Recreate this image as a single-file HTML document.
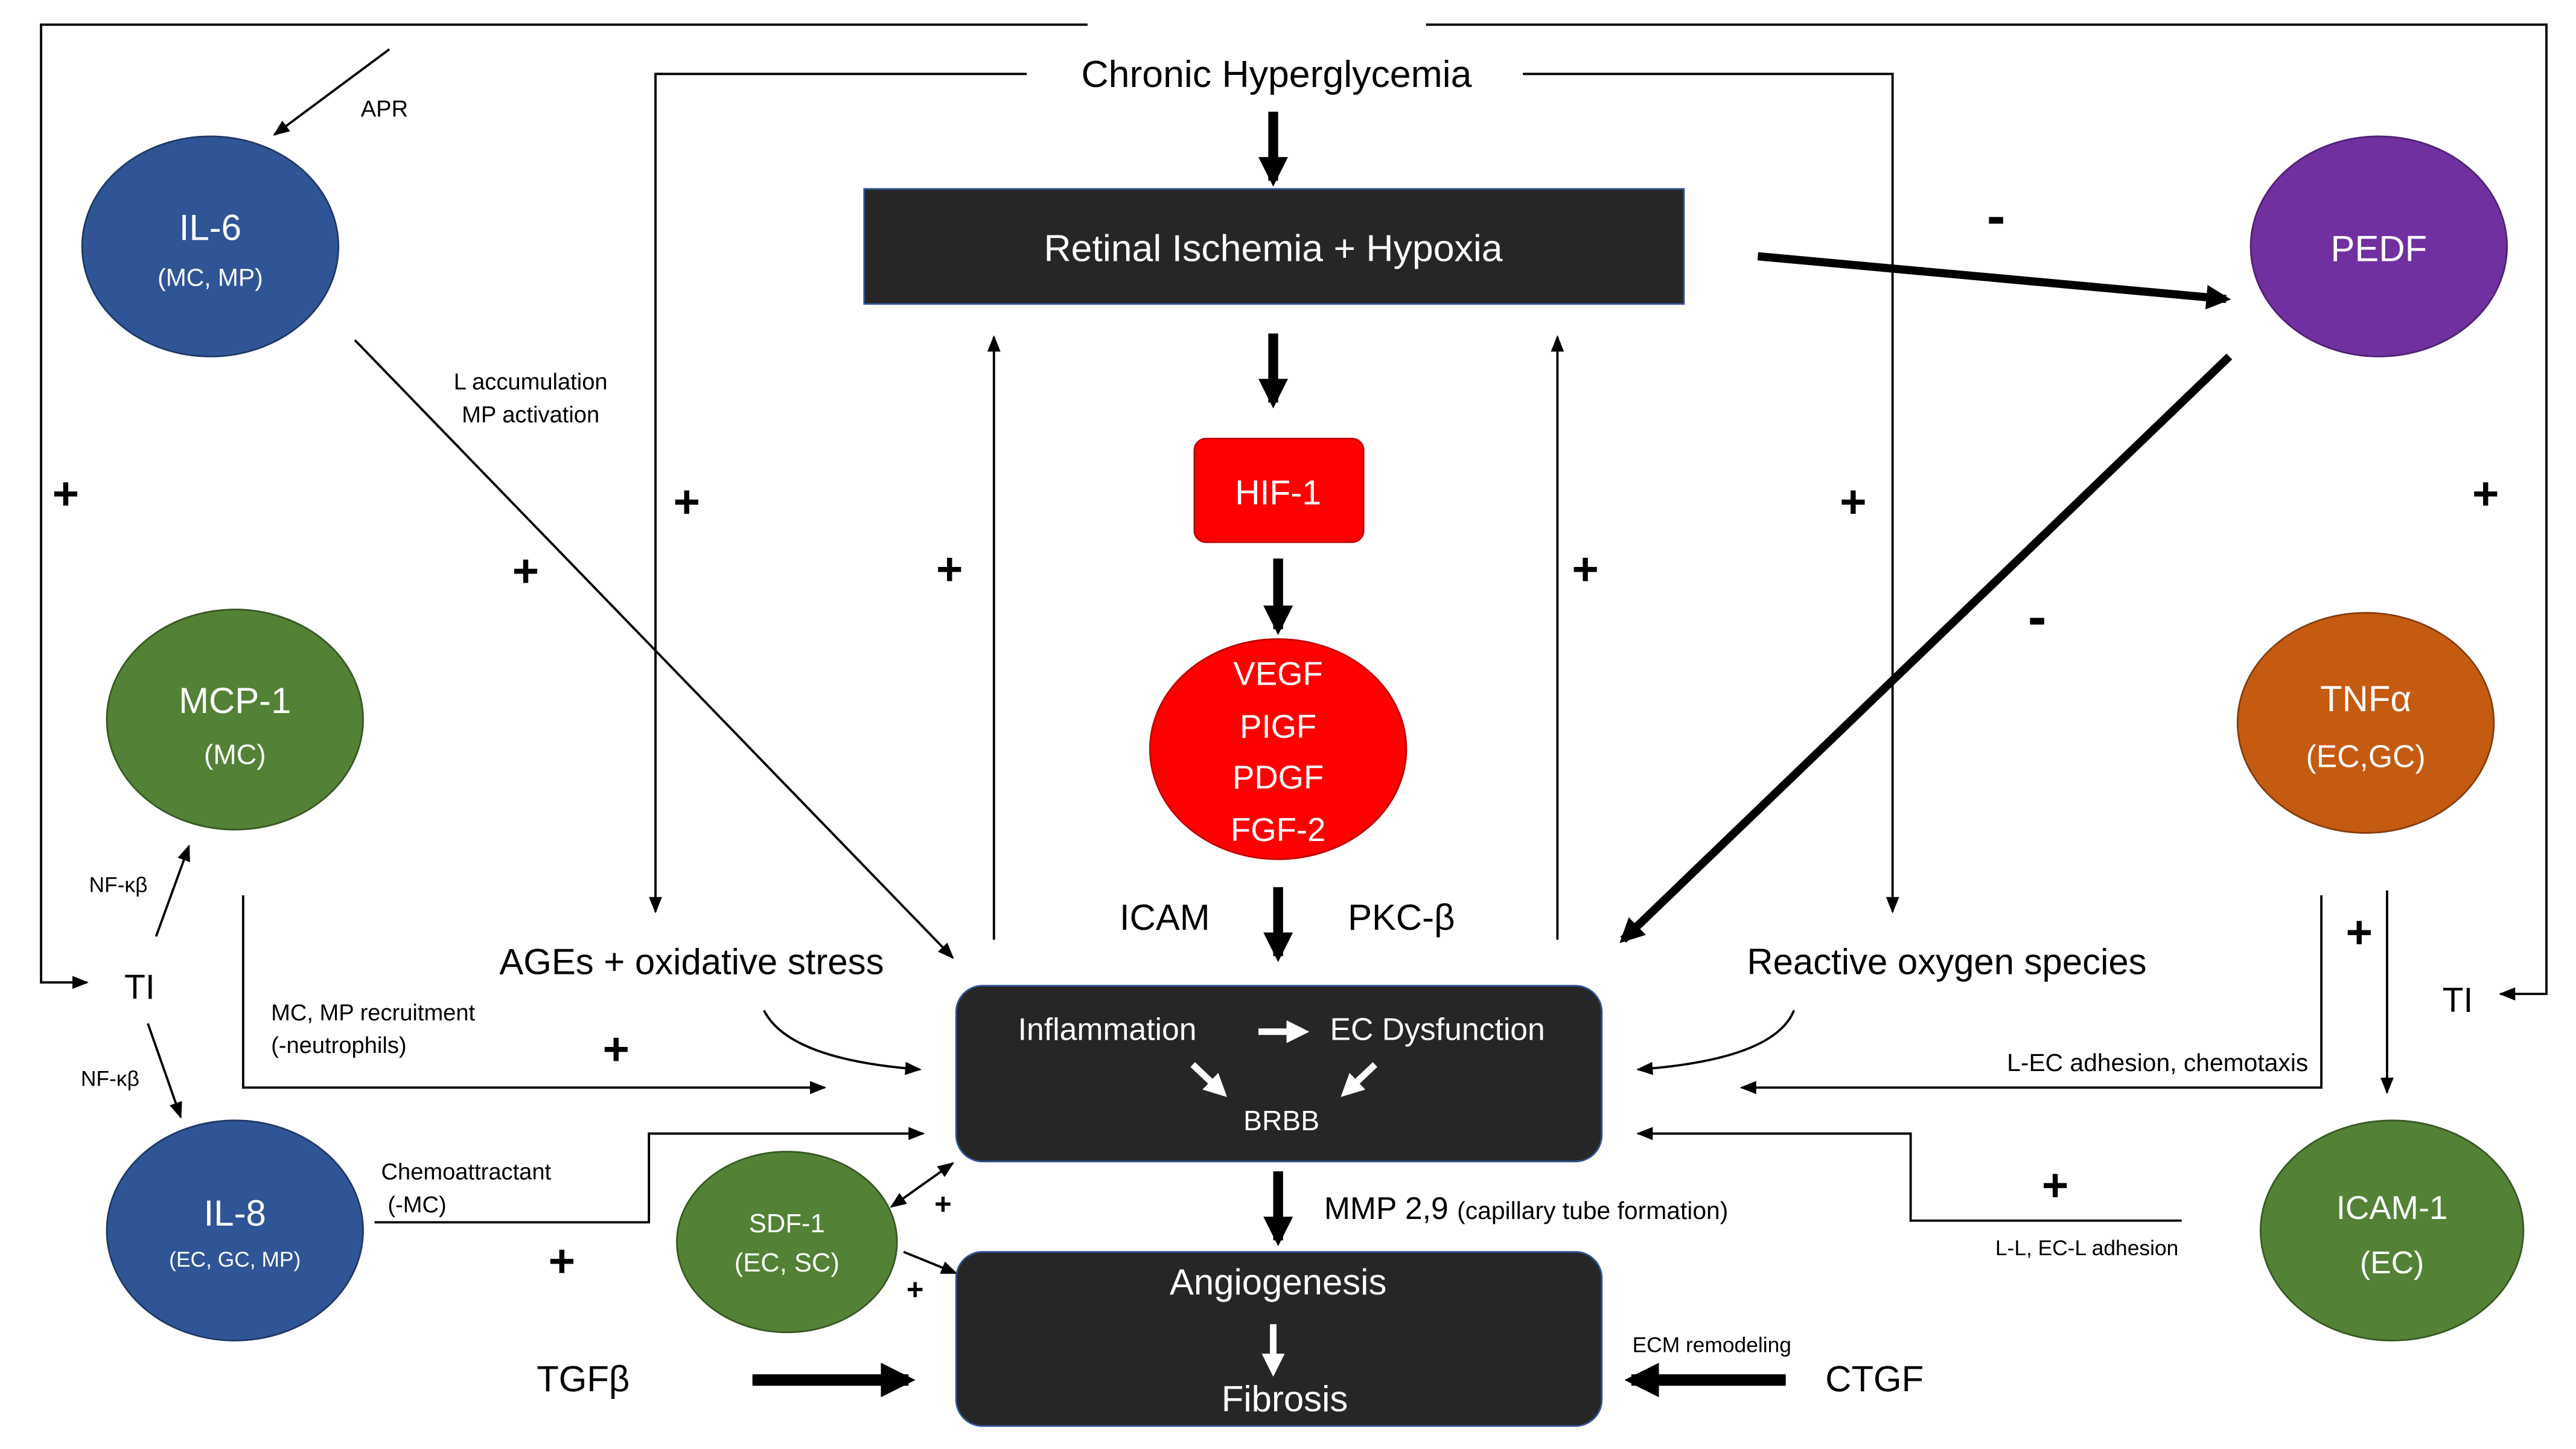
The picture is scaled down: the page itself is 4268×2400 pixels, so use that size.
<!DOCTYPE html>
<html><head><meta charset="utf-8"><style>
html,body{margin:0;padding:0;background:#fff;}
svg{display:block;}
text{font-family:"Liberation Sans","DejaVu Sans",sans-serif;}
</style></head><body>
<svg width="4268" height="2400" viewBox="0 0 1568 882" preserveAspectRatio="none" xmlns="http://www.w3.org/2000/svg">
<defs>
<marker id="a" markerWidth="10" markerHeight="8" refX="9" refY="4" orient="auto" markerUnits="userSpaceOnUse"><path d="M0,0 L10,4 L0,8 Z" fill="#000"/></marker>
<marker id="as" markerWidth="10" markerHeight="8" refX="1" refY="4" orient="auto-start-reverse" markerUnits="userSpaceOnUse"><path d="M0,0 L10,4 L0,8 Z" fill="#000"/></marker>
<marker id="t" markerWidth="3" markerHeight="3" refX="2.4" refY="1.5" orient="auto"><path d="M0,0 L3,1.5 L0,3 Z" fill="#000"/></marker>
<marker id="tw" markerWidth="3.5" markerHeight="3.5" refX="2.5" refY="1.75" orient="auto"><path d="M0,0 L3.5,1.75 L0,3.5 Z" fill="#fff"/></marker>
</defs>
<rect width="1568" height="882" fill="#fff"/>
<g fill="none" stroke="#000" stroke-width="1.4">
<polyline points="662,15 25,15 25,598 53,598" marker-end="url(#a)"/>
<polyline points="868,15 1550,15 1550,605 1522,605" marker-end="url(#a)"/>
<polyline points="625,45 399,45 399,555" marker-end="url(#a)"/>
<polyline points="927,45 1152,45 1152,555" marker-end="url(#a)"/>
<line x1="605" y1="572" x2="605" y2="205" marker-end="url(#a)"/>
<line x1="948" y1="572" x2="948" y2="205" marker-end="url(#a)"/>
<line x1="216" y1="207" x2="580" y2="583" marker-end="url(#a)"/>
<line x1="237" y1="30" x2="167" y2="82" marker-end="url(#a)"/>
<path d="M465,615 Q480,645 560,651" marker-end="url(#a)"/>
<path d="M1092,615 Q1080,645 997,651" marker-end="url(#a)"/>
<polyline points="148,545 148,662 502,662" marker-end="url(#a)"/>
<line x1="95" y1="570" x2="115" y2="515" marker-end="url(#a)"/>
<line x1="90" y1="623" x2="110" y2="680" marker-end="url(#a)"/>
<polyline points="228,744 395,744 395,690 562,690" marker-end="url(#a)"/>
<line x1="549" y1="730" x2="580" y2="708" marker-start="url(#as)" marker-end="url(#a)"/>
<line x1="550" y1="762" x2="582" y2="775" marker-end="url(#a)"/>
<polyline points="1413,545 1413,662 1060,662" marker-end="url(#a)"/>
<line x1="1453" y1="542" x2="1453" y2="665" marker-end="url(#a)"/>
<polyline points="1328,743 1163,743 1163,690 997,690" marker-end="url(#a)"/>
</g>
<g stroke="#000" fill="none">
<line x1="775" y1="68" x2="775" y2="110" stroke-width="6" marker-end="url(#t)"/>
<line x1="775" y1="203" x2="775" y2="245" stroke-width="6" marker-end="url(#t)"/>
<line x1="778" y1="340" x2="778" y2="383" stroke-width="6" marker-end="url(#t)"/>
<line x1="778" y1="540" x2="778" y2="582" stroke-width="6" marker-end="url(#t)"/>
<line x1="778" y1="713" x2="778" y2="755" stroke-width="6" marker-end="url(#t)"/>
<line x1="1070" y1="156" x2="1355" y2="182" stroke-width="5" marker-end="url(#t)"/>
<line x1="1357" y1="217" x2="988" y2="572" stroke-width="5" marker-end="url(#t)"/>
<line x1="458" y1="840" x2="553" y2="840" stroke-width="7" marker-end="url(#t)"/>
<line x1="1087" y1="840" x2="993" y2="840" stroke-width="7" marker-end="url(#t)"/>
</g>
<rect x="526" y="115" width="499" height="70" fill="#262626" stroke="#2f5597" stroke-width="1"/>
<rect x="727" y="267" width="103" height="63" rx="7" fill="#ff0000" stroke="#c00000"/>
<ellipse cx="778" cy="456" rx="78" ry="67" fill="#ff0000" stroke="#c00000"/>
<ellipse cx="1448" cy="150" rx="78" ry="67" fill="#7030a0" stroke="#4f2272"/>
<ellipse cx="1440" cy="440" rx="78" ry="67" fill="#c55a11" stroke="#843c0c"/>
<ellipse cx="1456" cy="749" rx="80" ry="67" fill="#538135" stroke="#385723"/>
<ellipse cx="128" cy="150" rx="78" ry="67" fill="#2f5597" stroke="#1f3864"/>
<ellipse cx="143" cy="438" rx="78" ry="67" fill="#538135" stroke="#385723"/>
<ellipse cx="143" cy="749" rx="78" ry="67" fill="#2f5597" stroke="#1f3864"/>
<ellipse cx="479" cy="756" rx="67" ry="55" fill="#538135" stroke="#385723"/>
<rect x="582" y="600" width="393" height="107" rx="16" fill="#262626" stroke="#2f5597"/>
<rect x="582" y="762" width="393" height="106" rx="16" fill="#262626" stroke="#2f5597"/>
<g stroke="#fff" stroke-width="4" fill="none">
<line x1="766" y1="628" x2="793" y2="628" marker-end="url(#tw)"/>
<line x1="726" y1="648" x2="744" y2="665" marker-end="url(#tw)"/>
<line x1="837" y1="648" x2="819" y2="665" marker-end="url(#tw)"/>
<line x1="775" y1="806" x2="775" y2="834" marker-end="url(#tw)"/>
</g>
<g fill="#fff" text-anchor="middle">
<text x="775" y="159" font-size="23">Retinal Ischemia + Hypoxia</text>
<text x="778" y="307" font-size="21">HIF-1</text>
<text x="778" y="417" font-size="20">VEGF</text>
<text x="778" y="449" font-size="20">PIGF</text>
<text x="778" y="480" font-size="20">PDGF</text>
<text x="778" y="512" font-size="20">FGF-2</text>
<text x="1448" y="159" font-size="22">PEDF</text>
<text x="1440" y="433" font-size="22">TNFα</text>
<text x="1440" y="467" font-size="19">(EC,GC)</text>
<text x="1456" y="742" font-size="20">ICAM-1</text>
<text x="1456" y="775" font-size="19">(EC)</text>
<text x="128" y="146" font-size="22">IL-6</text>
<text x="128" y="174" font-size="15">(MC, MP)</text>
<text x="143" y="434" font-size="22">MCP-1</text>
<text x="143" y="465" font-size="17">(MC)</text>
<text x="143" y="746" font-size="22">IL-8</text>
<text x="143" y="771" font-size="13">(EC, GC, MP)</text>
<text x="479" y="750" font-size="16">SDF-1</text>
<text x="479" y="774" font-size="16">(EC, SC)</text>
<text x="674" y="633" font-size="19">Inflammation</text>
<text x="875" y="633" font-size="19">EC Dysfunction</text>
<text x="780" y="688" font-size="17">BRBB</text>
<text x="778" y="788" font-size="22">Angiogenesis</text>
<text x="782" y="859" font-size="22">Fibrosis</text>
</g>
<g fill="#000" text-anchor="middle">
<text x="777" y="53" font-size="23">Chronic Hyperglycemia</text>
<text x="709" y="566" font-size="22">ICAM</text>
<text x="853" y="566" font-size="22">PKC-β</text>
<text x="421" y="593" font-size="22">AGEs + oxidative stress</text>
<text x="1185" y="593" font-size="22">Reactive oxygen species</text>
<text x="85" y="608" font-size="21">TI</text>
<text x="1496" y="616" font-size="21">TI</text>
<text x="355" y="847" font-size="22">TGFβ</text>
<text x="1141" y="847" font-size="22">CTGF</text>
<text x="234" y="71" font-size="14">APR</text>
<text x="323" y="237" font-size="14">L accumulation</text>
<text x="323" y="257" font-size="14">MP activation</text>
<text x="72" y="543" font-size="13">NF-κβ</text>
<text x="67" y="661" font-size="13">NF-κβ</text>
<text x="1042" y="823" font-size="13">ECM remodeling</text>
<g font-size="28" font-weight="bold">
<text x="578" y="356">+</text><text x="965" y="356">+</text>
<text x="418" y="315">+</text><text x="1128" y="315">+</text>
<text x="320" y="357">+</text><text x="40" y="310">+</text>
<text x="1513" y="310">+</text><text x="375" y="648">+</text>
<text x="342" y="777">+</text><text x="1436" y="577">+</text>
<text x="1251" y="731">+</text>
</g>
<g font-size="18" font-weight="bold"><text x="574" y="739">+</text><text x="557" y="791">+</text></g>
<g font-size="34" font-weight="bold"><text x="1215" y="143">-</text><text x="1240" y="387">-</text></g>
</g>
<g fill="#000" font-size="14">
<text x="165" y="621">MC, MP recruitment</text>
<text x="165" y="641">(-neutrophils)</text>
<text x="232" y="718">Chemoattractant</text>
<text x="236" y="738">(-MC)</text>
<text x="806" y="742" font-size="19">MMP 2,9 <tspan font-size="15">(capillary tube formation)</tspan></text>
<text x="1405" y="652" text-anchor="end" font-size="15">L-EC adhesion, chemotaxis</text>
<text x="1326" y="764" text-anchor="end" font-size="13">L-L, EC-L adhesion</text>
</g>
</svg>
</body></html>
